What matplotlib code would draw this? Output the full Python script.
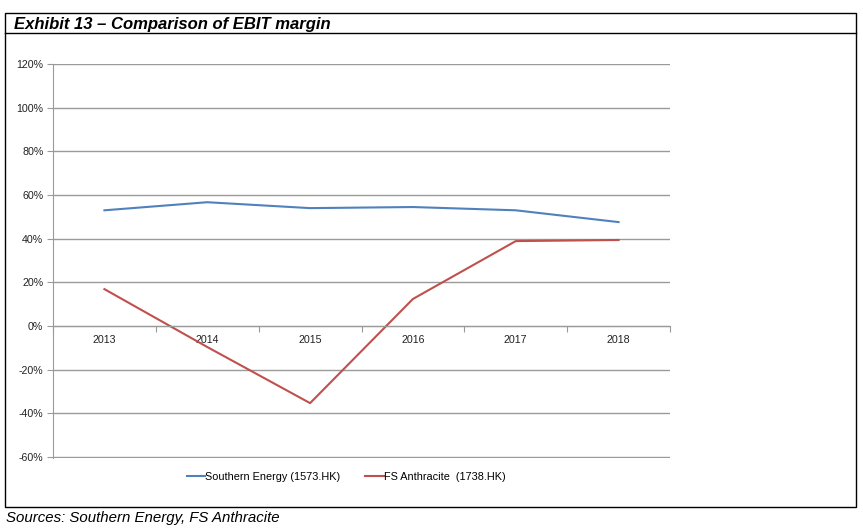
import matplotlib
matplotlib.use("Agg")
import matplotlib.pyplot as plt
from matplotlib.patches import Rectangle
from matplotlib.lines import Line2D
from matplotlib.ticker import FuncFormatter

plt.rcParams["font.family"] = ["Liberation Sans", "DejaVu Sans"]

years = ["2013", "2014", "2015", "2016", "2017", "2018"]
southern_energy = [53.0, 56.7, 54.0, 54.5, 53.0, 47.6]
fs_anthracite = [16.9, -9.6, -35.3, 12.4, 38.9, 39.4]
y_ticks = [-60, -40, -20, 0, 20, 40, 60, 80, 100, 120]

W, H = 863, 532
fig = plt.figure(figsize=(W / 100, H / 100), dpi=100)

# cadre + bandeau titre
fig.patches.append(Rectangle((5 / W, 1 - 507 / H), 851 / W, 494 / H,
                             transform=fig.transFigure, fill=False,
                             edgecolor="black", lw=1.0))
fig.lines.append(Line2D([5 / W, 856 / W], [1 - 33 / H, 1 - 33 / H],
                        transform=fig.transFigure, color="black", lw=1.0))
fig.text(14 / W, 1 - 24 / H, "Exhibit 13 \u2013 Comparison of EBIT margin",
         fontsize=12, fontweight="bold", fontstyle="italic", va="center")
fig.text(6 / W, 1 - 518 / H, "Sources: Southern Energy, FS Anthracite",
         fontsize=10.8, fontstyle="italic", va="center")

ax = fig.add_axes([53 / W, 1 - 457.5 / H, 617 / W, 393.5 / H])
x = list(range(len(years)))
ax.plot(x, southern_energy, color="#4F81BD", lw=1.5, label="Southern Energy (1573.HK)")
ax.plot(x, fs_anthracite, color="#C0504D", lw=1.5, label="FS Anthracite  (1738.HK)")

ax.set_xlim(-0.5, len(years) - 0.5)
ax.set_ylim(-60.2, 120)
ax.set_yticks(y_ticks)
ax.yaxis.set_major_formatter(FuncFormatter(lambda v, p: f"{v:.0f}%"))
ax.grid(axis="y", color="#9a9a9a", lw=1.0)
ax.set_axisbelow(True)

for s in ["top", "right"]:
    ax.spines[s].set_visible(False)
ax.spines["left"].set_color("#9a9a9a")
ax.spines["bottom"].set_color("#9a9a9a")
ax.spines["bottom"].set_position(("data", 0))

ax.set_xticks([i - 0.5 for i in range(len(years) + 1)])
ax.set_xticklabels([])
ax.set_xticks(x, minor=True)
ax.set_xticklabels(years, minor=True)
ax.tick_params(axis="x", which="major", length=4, color="#9a9a9a", direction="out")
ax.tick_params(axis="x", which="minor", length=0, pad=6.5, labelsize=7.7, labelcolor="#222222")
ax.tick_params(axis="y", length=4, color="#9a9a9a", labelsize=7.7, labelcolor="#222222", pad=3)

fig.legend(loc="center", bbox_to_anchor=(346 / W, 1 - 477 / H), ncol=2,
           frameon=False, fontsize=7.8, handlelength=1.7, handletextpad=0.0,
           columnspacing=2.3)

fig.savefig("out.png", dpi=100)
